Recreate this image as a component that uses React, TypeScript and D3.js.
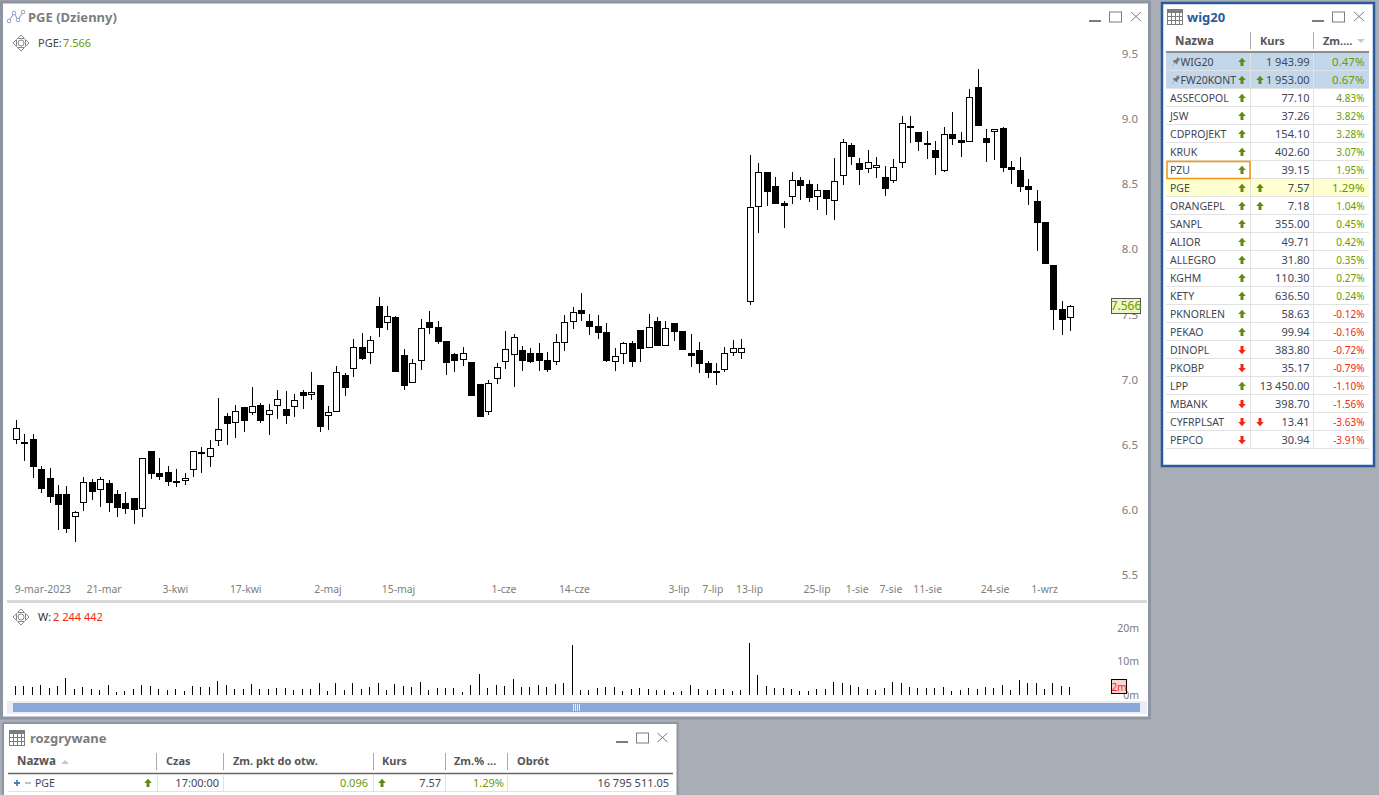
import React, { useEffect, useRef } from "react";
import * as d3 from "d3";

const opens = [
  6.533, 6.52, 6.54, 6.312, 6.243, 6.12, 6.12, 5.941, 6.049, 6.213, 6.149, 6.205, 6.12, 6.051, 6.09, 6.003, 6.451, 6.282, 6.289, 6.223, 6.218,
  6.302, 6.443, 6.402, 6.525, 6.72, 6.663, 6.789, 6.74, 6.804, 6.725, 6.794, 6.773, 6.786, 6.904, 6.878, 6.958, 6.717,
  6.748, 7.032, 7.078, 7.247, 7.201, 7.564, 7.431, 7.48, 7.188, 6.97, 7.139, 7.441, 7.403, 7.296, 7.196, 7.147, 7.134, 6.965, 6.748, 7.001,
  7.132, 7.185, 7.226, 7.203, 7.203, 7.15, 7.132, 7.278, 7.439, 7.534, 7.449, 7.411, 7.365, 7.132, 7.193, 7.28, 7.38, 7.239, 7.449, 7.255,
  7.434, 7.372, 7.203, 7.226, 7.127, 7.065, 7.075, 7.201, 7.201,
  7.593, 8.322, 8.591, 8.484, 8.356, 8.399, 8.53, 8.499, 8.399, 8.453, 8.369, 8.561, 8.801, 8.66, 8.614, 8.622, 8.555, 8.522, 8.66, 8.947,
  8.901, 8.799, 8.763, 8.599, 8.886, 8.84, 8.822, 9.247, 8.855, 8.898, 8.932, 8.632, 8.609, 8.486, 8.371, 8.21, 7.88, 7.542, 7.47,
];
const highs = [
  6.689, 6.581, 6.581, 6.336, 6.32, 6.187, 6.182, 5.99, 6.248, 6.233, 6.248, 6.228, 6.151, 6.136, 6.09, 6.397, 6.451, 6.397, 6.336, 6.312, 6.282,
  6.448, 6.481, 6.535, 6.858, 6.74, 6.804, 6.789, 6.942, 6.819, 6.812, 6.919, 6.912, 6.888, 6.919, 7.06, 6.958, 6.796,
  7.104, 7.05, 7.308, 7.357, 7.334, 7.633, 7.564, 7.488, 7.234, 7.155, 7.464, 7.526, 7.449, 7.296, 7.203, 7.249, 7.134, 6.965, 6.996, 7.124,
  7.372, 7.349, 7.257, 7.242, 7.28, 7.211, 7.349, 7.495, 7.557, 7.664, 7.503, 7.495, 7.434, 7.242, 7.288, 7.296, 7.38, 7.503, 7.48, 7.449,
  7.434, 7.372, 7.349, 7.288, 7.142, 7.127, 7.249, 7.303, 7.311,
  8.724, 8.663, 8.591, 8.555, 8.371, 8.594, 8.555, 8.53, 8.499, 8.453, 8.701, 8.847, 8.817, 8.699, 8.763, 8.709, 8.64, 8.694, 9.024, 9.024,
  8.901, 8.909, 8.832, 8.939, 9.055, 8.901, 9.231, 9.385, 8.924, 8.924, 8.939, 8.678, 8.709, 8.54, 8.456, 8.21, 7.88, 7.603, 7.572,
];
const lows = [
  6.507, 6.376, 6.246, 6.131, 6.054, 5.847, 5.824, 5.754, 5.992, 6.074, 6.023, 5.985, 5.946, 5.969, 5.893, 5.946, 6.238, 6.231, 6.184, 6.177, 6.192,
  6.254, 6.284, 6.33, 6.492, 6.499, 6.553, 6.599, 6.73, 6.668, 6.576, 6.699, 6.661, 6.714, 6.776, 6.842, 6.599, 6.612,
  6.748, 6.876, 7.022, 7.15, 7.121, 7.329, 7.383, 7.06, 6.922, 6.97, 7.075, 7.352, 7.275, 7.037, 7.06, 7.106, 6.876, 6.714, 6.73, 6.968,
  7.083, 6.945, 7.068, 7.129, 7.068, 7.06, 7.114, 7.221, 7.39, 7.452, 7.344, 7.313, 7.137, 7.068, 7.121, 7.098, 7.137, 7.239, 7.26, 7.255,
  7.298, 7.229, 7.098, 7.052, 7.014, 6.96, 7.06, 7.183, 7.16,
  7.575, 8.128, 8.335, 8.351, 8.166, 8.351, 8.381, 8.366, 8.305, 8.266, 8.228, 8.497, 8.65, 8.497, 8.589, 8.55, 8.412, 8.512, 8.625, 8.819,
  8.758, 8.696, 8.573, 8.594, 8.804, 8.712, 8.822, 8.95, 8.673, 8.689, 8.596, 8.504, 8.443, 8.343, 7.99, 7.89, 7.383, 7.345, 7.375,
];
const closes = [
  6.625, 6.507, 6.33, 6.161, 6.1, 6.039, 5.854, 5.98, 6.21, 6.138, 6.233, 6.054, 6.016, 6.008, 6.0, 6.394, 6.277, 6.254, 6.215, 6.215, 6.241,
  6.448, 6.433, 6.471, 6.617, 6.661, 6.755, 6.684, 6.794, 6.684, 6.763, 6.848, 6.722, 6.84, 6.876, 6.901, 6.638, 6.748,
  7.055, 6.937, 7.247, 7.157, 7.301, 7.398, 7.485, 7.06, 6.952, 7.124, 7.393, 7.398, 7.29, 7.129, 7.144, 7.201, 6.876, 6.714, 6.97, 7.093,
  7.232, 7.324, 7.144, 7.137, 7.144, 7.075, 7.285, 7.439, 7.516, 7.505, 7.406, 7.36, 7.144, 7.178, 7.278, 7.137, 7.237, 7.4, 7.26, 7.393,
  7.367, 7.229, 7.183, 7.121, 7.052, 7.052, 7.201, 7.239, 7.239,
  8.322, 8.591, 8.443, 8.351, 8.335, 8.53, 8.489, 8.397, 8.453, 8.389, 8.522, 8.822, 8.712, 8.612, 8.668, 8.645, 8.466, 8.63, 8.968, 8.934,
  8.827, 8.814, 8.704, 8.883, 8.85, 8.819, 9.167, 8.95, 8.819, 8.921, 8.627, 8.612, 8.481, 8.458, 8.205, 7.89, 7.537, 7.46, 7.566,
];
// volume in millions of shares
const volumes = [
  2.6, 2.6, 2.4, 3.0, 2.2, 2.6, 5.1, 1.9, 2.4, 1.8, 1.5, 3.0, 0.9, 1.2, 1.8, 3.0, 2.7, 1.8, 1.5, 1.8, 1.2, 2.7, 2.4, 2.4, 4.2, 3.0, 1.8, 1.8, 3.3, 1.8,
  1.8, 2.1, 2.1, 1.5, 1.8, 1.8, 3.6, 1.2, 3.6, 1.5, 3.6, 1.8, 2.4, 3.6, 1.5, 3.3, 2.7, 2.4, 3.9, 1.5, 2.1, 2.1, 2.1, 0.9, 3.0, 6.3, 2.1, 3.0, 2.7, 4.8,
  2.4, 2.4, 3.0, 2.4, 3.3, 3.6, 14.9, 1.5, 1.5, 2.1, 2.4, 2.4, 1.2, 1.8, 2.1, 1.8, 1.5, 1.5, 0.9, 1.2, 3.0, 1.8, 1.5, 1.8, 1.8, 1.2, 1.5, 15.5,
  6.0, 2.7, 2.1, 2.1, 1.8, 1.2, 1.2, 1.8, 1.8, 3.9, 3.6, 3.0, 2.4, 1.8, 1.5, 2.1, 3.9, 3.6, 2.4, 2.1, 2.1, 2.1, 2.4, 1.2, 1.5, 2.1, 1.8, 2.4, 2.1, 3.0,
  1.5, 4.5, 3.6, 3.6, 1.8, 3.6, 2.7, 2.244,
];
const dateIndexes = [0, 8, 17, 25, 35, 43, 56, 64, 77, 81, 85, 93, 98, 102, 106, 114, 120];
const dateLabels = ["9-mar-2023", "21-mar", "3-kwi", "17-kwi", "2-maj", "15-maj", "1-cze", "14-cze", "3-lip", "7-lip", "13-lip", "25-lip", "1-sie", "7-sie", "11-sie", "24-sie", "1-wrz"];
const priceTicks = [5.5, 6, 6.5, 7, 7.5, 8, 8.5, 9, 9.5];
const volumeTicks = [0, 10, 20];

const wigNames = ["WIG20", "FW20KONT", "ASSECOPOL", "JSW", "CDPROJEKT", "KRUK", "PZU", "PGE", "ORANGEPL", "SANPL", "ALIOR", "ALLEGRO", "KGHM", "KETY", "PKNORLEN", "PEKAO", "DINOPL", "PKOBP", "LPP", "MBANK", "CYFRPLSAT", "PEPCO"];
const wigDirs = [1, 1, 1, 1, 1, 1, 1, 1, 1, 1, 1, 1, 1, 1, 1, 1, -1, -1, 1, -1, -1, -1];
const wigKurs = ["1 943.99", "1 953.00", "77.10", "37.26", "154.10", "402.60", "39.15", "7.57", "7.18", "355.00", "49.71", "31.80", "110.30", "636.50", "58.63", "99.94", "383.80", "35.17", "13 450.00", "398.70", "13.41", "30.94"];
const wigKursDirs = [0, 1, 0, 0, 0, 0, 0, 1, 1, 0, 0, 0, 0, 0, 0, 0, 0, 0, 0, 0, -1, 0];
const wigChange = [0.47, 0.67, 4.83, 3.82, 3.28, 3.07, 1.95, 1.29, 1.04, 0.45, 0.42, 0.35, 0.27, 0.24, -0.12, -0.16, -0.72, -0.79, -1.1, -1.56, -3.63, -3.91];
const bigChangeRows = ["WIG20", "FW20KONT", "PGE"];

const FONT = "'Noto Sans', sans-serif";
const GREEN = "#6b9a00";
const RED = "#f5250f";
const ARROW_GREEN = "#5f8c0c";
const GREY = "#7d7d7d";
const FRAME = "#8e95a2";
const BLUE = "#2b5b9f";

const xScale = d3.scaleLinear().domain([0, 125]).range([16.3, 1070.85]);
const yScale = d3.scaleLinear().domain([5.5, 9.5]).range([574.8, 54]);
const volScale = d3.scaleLinear().domain([0, 20]).range([695, 628]);

const Arrow = ({ x, y, dir }: { x: number; y: number; dir: number }) => (
  <path
    transform={`translate(${x},${y}) scale(1,${dir > 0 ? 1 : -1})`}
    d="M0,-4.2 L3.8,0 L1.5,0 L1.5,4 L-1.5,4 L-1.5,0 L-3.8,0Z"
    fill={dir > 0 ? ARROW_GREEN : RED}
  />
);

const TableIcon = ({ x, y, color }: { x: number; y: number; color: string }) => (
  <g stroke={color} fill="none" strokeWidth={1} shapeRendering="crispEdges">
    <rect x={x + 0.5} y={y + 0.5} width={15} height={15} />
    <rect x={x + 0.5} y={y + 0.5} width={15} height={3} fill={color} />
    {[4, 8, 12].map((d) => (
      <line key={"v" + d} x1={x + d + 0.5} x2={x + d + 0.5} y1={y} y2={y + 16} />
    ))}
    {[7, 11].map((d) => (
      <line key={"h" + d} x1={x} x2={x + 16} y1={y + d + 0.5} y2={y + d + 0.5} />
    ))}
  </g>
);

const MoveIcon = ({ cx, cy }: { cx: number; cy: number }) => (
  <g transform={`translate(${cx},${cy})`} fill="none" stroke="#888" strokeWidth={1}>
    <circle r={3} />
    <path d="M-3.5,-4.5 L0,-8 L3.5,-4.5Z M-3.5,4.5 L0,8 L3.5,4.5Z M-4.5,-3.5 L-8,0 L-4.5,3.5Z M4.5,-3.5 L8,0 L4.5,3.5Z" />
  </g>
);

const WindowButtons = ({ minX, rectX, closeX, y }: { minX: number; rectX: number; closeX: number; y: number }) => (
  <g stroke={GREY} fill="none">
    <line x1={minX} x2={minX + 12} y1={y + 9.5} y2={y + 9.5} strokeWidth={2} />
    <rect x={rectX + 0.5} y={y + 0.5} width={12} height={10} strokeWidth={1} />
    <path d={`M${closeX},${y + 0.5} L${closeX + 10},${y + 9.5} M${closeX + 10},${y + 0.5} L${closeX},${y + 9.5}`} strokeWidth={1} />
  </g>
);

const App = () => {
  const chartRef = useRef<SVGGElement | null>(null);

  useEffect(() => {
    if (!chartRef.current) return;
    const g = d3.select(chartRef.current);
    g.selectAll("*").remove();

    const candles = opens.map((o, i) => ({ i, o, h: highs[i], l: lows[i], c: closes[i] }));
    const px = (i: number) => Math.floor(xScale(i));

    // wicks
    g.append("g")
      .attr("stroke", "#000")
      .attr("shape-rendering", "crispEdges")
      .selectAll("line")
      .data(candles)
      .join("line")
      .attr("x1", (d) => px(d.i) + 0.5)
      .attr("x2", (d) => px(d.i) + 0.5)
      .attr("y1", (d) => Math.round(yScale(d.h)))
      .attr("y2", (d) => Math.round(yScale(d.l)));

    // bodies, hollow when the session closed up
    g.append("g")
      .attr("shape-rendering", "crispEdges")
      .selectAll("rect")
      .data(candles)
      .join("rect")
      .each(function (d) {
        const top = Math.round(yScale(Math.max(d.o, d.c)));
        const bottom = Math.round(yScale(Math.min(d.o, d.c)));
        const up = d.c >= d.o;
        d3.select(this)
          .attr("x", up ? px(d.i) - 3 + 0.5 : px(d.i) - 3)
          .attr("width", up ? 6 : 7)
          .attr("y", up ? top + 0.5 : top)
          .attr("height", up ? Math.max(bottom - top - 1, 1) : Math.max(bottom - top, 2))
          .attr("fill", up ? "#fff" : "#000")
          .attr("stroke", up ? "#000" : "none");
      });

    // volume sticks
    g.append("g")
      .attr("stroke", "#000")
      .attr("shape-rendering", "crispEdges")
      .selectAll("line")
      .data(volumes)
      .join("line")
      .attr("x1", (_, i) => px(i) - 0.5)
      .attr("x2", (_, i) => px(i) - 0.5)
      .attr("y1", (d) => Math.round(volScale(d)))
      .attr("y2", volScale(0));

    // price axis
    const priceAxis = d3.axisLeft(yScale).tickValues(priceTicks).tickSize(0).tickPadding(0).tickFormat(d3.format(".1f") as any);
    const py = g.append("g").attr("transform", "translate(1138,0)").call(priceAxis);
    py.select(".domain").remove();
    py.selectAll("text").attr("fill", GREY).style("font", `11.5px ${FONT}`);

    // volume axis
    const volAxis = d3.axisLeft(volScale).tickValues(volumeTicks).tickSize(0).tickPadding(0).tickFormat((d) => `${d}m`);
    const vy = g.append("g").attr("transform", "translate(1139,0)").call(volAxis);
    vy.select(".domain").remove();
    vy.selectAll("text").attr("fill", GREY).style("font", `10.5px ${FONT}`);

    // date labels sit just right of their candle
    g.append("g")
      .selectAll("text")
      .data(dateIndexes)
      .join("text")
      .attr("x", (d) => (d === 0 ? xScale(d) - 1.5 : xScale(d) + 2.7))
      .attr("y", 593)
      .attr("fill", GREY)
      .style("font", `10.4px ${FONT}`)
      .text((_, i) => dateLabels[i]);
  }, []);

  return (
    <svg width={1379} height={795} style={{ position: "absolute", left: 0, top: 0, display: "block", fontFamily: FONT }}>
      <rect width={1379} height={795} fill="#a9adb5" />

      {/* chart window */}
      <rect x={1.5} y={2} width={1148} height={716} fill="#fff" stroke={FRAME} strokeWidth={3} />
      <path d="M9,21 L14,13 L18,20 L23,12" fill="none" stroke="#8fa3c4" strokeWidth={1.1} />
      <circle cx={9} cy={21} r={1.8} fill="#fff" stroke="#8fa3c4" />
      <circle cx={14} cy={13} r={1.8} fill="#fff" stroke="#8fa3c4" />
      <circle cx={18} cy={20} r={1.8} fill="#fff" stroke="#8fa3c4" />
      <circle cx={23} cy={12} r={1.8} fill="#fff" stroke="#8fa3c4" />
      <text x={28} y={22} fontSize={13} fontWeight="bold" fill={GREY}>PGE (Dzienny)</text>
      <WindowButtons minX={1089} rectX={1109} closeX={1131} y={11.5} />
      <MoveIcon cx={21} cy={43} />
      <text x={38} y={47} fontSize={11} fill="#444">PGE:</text>
      <text x={63} y={47} fontSize={11} fill={GREEN}>7.566</text>

      <rect x={7} y={600} width={1140} height={3} fill="#d9d9d9" />
      <MoveIcon cx={21} cy={617} />
      <text x={38} y={621} fontSize={11} fill="#333">W:</text>
      <text x={53} y={621} fontSize={11} fill={RED}>2 244 442</text>

      <rect x={7} y={701} width={1140} height={13} fill="#ebedf6" />
      <rect x={13} y={703} width={1127} height={9} fill="#8aa8d8" />
      {[573, 575, 577, 579].map((x) => (
        <line key={x} x1={x + 0.5} x2={x + 0.5} y1={704} y2={711} stroke="#fff" strokeOpacity={0.8} />
      ))}

      <g ref={chartRef} />

      {/* last price and last volume markers */}
      <rect x={1111.5} y={298.5} width={29} height={15} fill="#eef5c6" stroke="#555" />
      <text x={1126} y={310} fontSize={12} textAnchor="middle" fill={GREEN}>7.566</text>
      <rect x={1111.5} y={679.5} width={15} height={14} fill="#f7d5d0" stroke="#000" />
      <text x={1119} y={690.5} fontSize={10} textAnchor="middle" fill={RED}>2m</text>

      {/* wig20 window */}
      <rect x={1162} y={3} width={212} height={463} fill="#fff" stroke={BLUE} strokeWidth={2.5} />
      <TableIcon x={1167} y={9} color={GREY} />
      <text x={1187} y={22} fontSize={13} fontWeight="bold" fill={BLUE}>wig20</text>
      <WindowButtons minX={1312} rectX={1332} closeX={1354} y={11.5} />
      <g fontSize={11} fontWeight="bold" fill="#555">
        <text x={1175} y={45} fontSize={11.6}>Nazwa</text>
        <text x={1260} y={45}>Kurs</text>
        <text x={1323} y={45}>Zm....</text>
      </g>
      <path d="M1357,39 L1365,39 L1361,43Z" fill="#c8c8c8" />
      <g stroke="#aaa" shapeRendering="crispEdges">
        <line x1={1250.5} x2={1250.5} y1={32} y2={49} />
        <line x1={1313.5} x2={1313.5} y1={32} y2={49} />
      </g>
      <line x1={1166} x2={1369} y1={52} y2={52} stroke="#666" strokeWidth={1.5} />
      {wigNames.map((name, i) => {
        const top = 53 + i * 18;
        const cy = top + 9;
        const pinned = i < 2;
        const pge = name === "PGE";
        const big = bigChangeRows.includes(name);
        const pct = wigChange[i];
        return (
          <g key={name}>
            {pinned && <rect x={1166} y={top} width={203} height={17} fill="#c3d7ea" />}
            {pge && <rect x={1166} y={top} width={203} height={17} fill="#ffffcf" />}
            <line x1={1166} x2={1369} y1={top + 17.5} y2={top + 17.5} stroke="#e2e2e2" />
            {pinned && (
              <path transform={`translate(${1175},${cy}) scale(1.25)`} d="M-3,4 L-0.5,0.5 L-2,-1 L1,-2 L2,-4 L4,-2 L2.5,-0.5 L1.5,2 L0,0.5Z" fill="#777" />
            )}
            <text x={pinned ? 1180.5 : 1170} y={cy + 4} fontSize={10.5} fill="#3f4652">{name}</text>
            <Arrow x={1242} y={cy} dir={wigDirs[i]} />
            {wigKursDirs[i] !== 0 && <Arrow x={1260} y={cy} dir={wigKursDirs[i]} />}
            <text x={1309.5} y={cy + 4} fontSize={11} textAnchor="end" fill="#3f4652">{wigKurs[i]}</text>
            <text x={1364.5} y={cy + 4} fontSize={big ? 11.5 : 10} textAnchor="end" fill={pct >= 0 ? GREEN : RED}>
              {pct.toFixed(2)}%
            </text>
          </g>
        );
      })}
      <g stroke="#e2e2e2" shapeRendering="crispEdges">
        <line x1={1250.5} x2={1250.5} y1={53} y2={449} />
        <line x1={1313.5} x2={1313.5} y1={53} y2={449} />
      </g>
      <rect x={1167} y={161.5} width={83} height={17} fill="none" stroke="#f39c12" strokeWidth={1.6} />

      {/* rozgrywane window */}
      <rect x={3} y={723} width={674} height={72} fill="#fff" />
      <path d="M3,723 L677.5,723 L677.5,795" fill="none" stroke={FRAME} strokeWidth={2} />
      <path d="M3,723 L3,795" fill="none" stroke={FRAME} strokeWidth={2} />
      <TableIcon x={9} y={730} color={GREY} />
      <text x={30} y={743} fontSize={13} fontWeight="bold" fill={GREY}>rozgrywane</text>
      <WindowButtons minX={616} rectX={636} closeX={657.5} y={732.5} />
      <g fontSize={11} fontWeight="bold" fill="#555">
        <text x={17} y={765} fontSize={11.6}>Nazwa</text>
        <text x={166} y={765}>Czas</text>
        <text x={233} y={765}>Zm. pkt do otw.</text>
        <text x={382} y={765}>Kurs</text>
        <text x={454} y={765}>Zm.% ...</text>
        <text x={517} y={765}>Obrót</text>
      </g>
      <path d="M61,764 L69,764 L65,760Z" fill="#c8c8c8" />
      {[156, 223, 373, 445, 507].map((x) => (
        <line key={x} x1={x + 0.5} x2={x + 0.5} y1={753} y2={770} stroke="#aaa" />
      ))}
      <line x1={8} x2={673} y1={773.5} y2={773.5} stroke="#666" strokeWidth={1.5} />
      {[157, 223, 373, 445, 507].map((x) => (
        <line key={x} x1={x + 0.5} x2={x + 0.5} y1={774} y2={791} stroke="#e2e2e2" />
      ))}
      <line x1={8} x2={673} y1={791.5} y2={791.5} stroke="#e2e2e2" />
      <path d="M14,783 h6 M17,780 v6" stroke="#4f7cc0" strokeWidth={1.8} />
      <path d="M25,783 h6" stroke="#bbb" strokeWidth={1.8} />
      <g fontSize={11} fill="#3f4652">
        <text x={35} y={787} fontSize={10.5}>PGE</text>
        <text x={219} y={787} textAnchor="end">17:00:00</text>
        <text x={441} y={787} textAnchor="end">7.57</text>
        <text x={669} y={787} textAnchor="end">16 795 511.05</text>
      </g>
      <Arrow x={148} y={783} dir={1} />
      <Arrow x={382} y={783} dir={1} />
      <text x={368} y={787} fontSize={11} textAnchor="end" fill={GREEN}>0.096</text>
      <text x={504} y={787} fontSize={11} textAnchor="end" fill={GREEN}>1.29%</text>
    </svg>
  );
};

export default App;
